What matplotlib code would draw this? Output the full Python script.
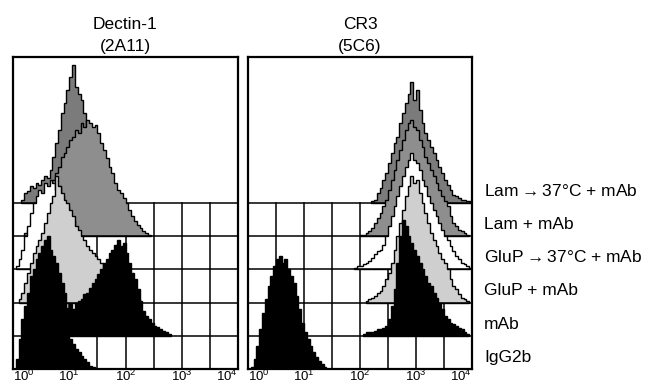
import numpy as np
import matplotlib
matplotlib.use('Agg')
import matplotlib.pyplot as plt
from matplotlib.transforms import blended_transform_factory

plt.rcParams['font.family'] = ['Liberation Sans', 'DejaVu Sans']
plt.rcParams['mathtext.default'] = 'regular'

# channel width (log10 units) of the histograms
bin_width = 0.05

# samples from the back row (top) to the front row (bottom)
samples = ['Lam$\\rightarrow$37\u00b0C + mAb', 'Lam + mAb', 'GluP$\\rightarrow$37\u00b0C + mAb',
           'GluP + mAb', 'mAb', 'IgG2b']
fills = ['#7b7b7b', '#8e8e8e', 'white', '#cfcfcf', 'black', 'black']

# Dectin-1 (2A11): first channel (log10 fluorescence) and counts in row heights
dec_start = [0.15, 0.20, 0.05, 0.10, 0.30, 0.05]
dec_lam37 = [0.1, 0.3, 0.35, 0.5, 0.45, 0.6, 0.55, 0.7, 0.8, 0.75, 1.0, 1.4, 1.8, 2.2,
             2.7, 3.0, 3.4, 3.8, 4.15, 3.5, 3.3, 3.1, 2.7, 2.3, 2.0, 1.8, 1.5, 1.3, 1.0,
             0.8, 0.6, 0.45, 0.3, 0.2, 0.1, 0.05]
dec_lam = [0.1, 0.2, 0.3, 0.45, 0.5, 0.7, 0.8, 1.0, 1.2, 1.5, 1.7, 1.9, 2.1, 2.4, 2.5,
           2.7, 2.9, 3.0, 3.2, 3.1, 3.4, 3.3, 3.5, 3.4, 3.3, 3.35, 3.1, 2.8, 2.6, 2.35,
           2.1, 1.9, 1.6, 1.4, 1.3, 1.15, 1.0, 0.8, 0.6, 0.45, 0.35, 0.25, 0.15, 0.1, 0.05]
dec_glup37 = [0.1, 0.3, 0.6, 1.0, 1.3, 1.7, 2.0, 2.2, 2.4, 2.3, 2.6, 2.5, 2.7, 2.6, 2.4,
              2.5, 2.2, 2.0, 1.9, 1.6, 1.5, 1.2, 1.0, 0.8, 0.6, 0.5, 0.35, 0.25, 0.15,
              0.1, 0.05]
dec_glup = [0.1, 0.3, 0.6, 0.9, 1.2, 1.5, 1.7, 1.9, 2.1, 2.4, 2.7, 3.0, 3.2, 3.8, 3.5,
            3.3, 3.1, 3.0, 2.8, 2.6, 2.3, 2.2, 2.0, 1.9, 1.7, 1.6, 1.5, 1.4, 1.3, 1.2,
            1.05, 0.95, 0.85, 0.75, 0.65, 0.55, 0.5, 0.4, 0.3, 0.25, 0.2, 0.15, 0.1, 0.05]
dec_mab = [0.1, 0.2, 0.3, 0.4, 0.5, 0.6, 0.7, 0.75, 0.8, 0.85, 0.9, 0.95, 1.0, 0.85,
           0.95, 0.8, 1.0, 1.05, 1.1, 1.25, 1.3, 1.45, 1.6, 1.7, 1.85, 2.0, 2.2, 2.3,
           2.5, 2.6, 2.75, 2.9, 2.7, 2.8, 2.5, 2.2, 1.9, 1.7, 1.4, 1.0, 0.75, 0.6, 0.5,
           0.4, 0.3, 0.27, 0.2, 0.15, 0.1, 0.05]
dec_igg = [0.3, 0.9, 1.5, 1.9, 2.3, 2.8, 3.0, 3.3, 3.5, 3.7, 3.9, 4.0, 3.6, 3.4, 3.2,
           2.9, 2.6, 2.3, 1.5, 0.9, 0.75, 0.6, 0.5, 0.4, 0.3, 0.2, 0.1, 0.05]

# CR3 (5C6)
cr3_start = [2.20, 2.00, 1.90, 2.10, 2.05, 0.05]
cr3_lam37 = [0.05, 0.1, 0.3, 0.45, 0.7, 0.9, 1.2, 1.5, 1.8, 2.0, 2.4, 2.7, 3.0, 3.3,
             3.65, 3.1, 3.4, 2.8, 2.4, 2.1, 1.9, 1.7, 1.5, 1.3, 1.1, 0.9, 0.7, 0.55,
             0.4, 0.25, 0.2, 0.15, 0.1, 0.1, 0.05, 0.05]
cr3_lam = [0.05, 0.05, 0.1, 0.15, 0.25, 0.4, 0.55, 0.7, 0.9, 1.1, 1.4, 1.7, 2.0, 2.3,
           2.6, 2.9, 3.2, 3.4, 3.5, 3.3, 3.2, 2.9, 2.7, 2.4, 2.2, 2.0, 1.8, 1.6, 1.4,
           1.2, 1.05, 0.9, 0.6, 0.4, 0.3, 0.2, 0.15, 0.1, 0.05]
cr3_glup37 = [0.05, 0.1, 0.1, 0.15, 0.2, 0.25, 0.35, 0.45, 0.55, 0.6, 0.75, 1.0, 1.3,
              1.6, 1.9, 2.2, 2.5, 2.8, 3.1, 3.3, 3.5, 3.3, 3.2, 3.0, 2.7, 2.5, 2.2,
              2.0, 1.8, 1.6, 1.4, 1.2, 1.0, 0.9, 0.7, 0.55, 0.4, 0.3, 0.2, 0.15, 0.1,
              0.05]
cr3_glup = [0.05, 0.1, 0.15, 0.2, 0.3, 0.35, 0.5, 0.7, 0.9, 1.2, 1.6, 2.0, 2.4, 2.8,
            3.2, 3.5, 3.8, 3.6, 3.7, 3.3, 3.0, 2.7, 2.4, 2.1, 1.9, 1.7, 1.5, 1.3, 1.2,
            1.0, 0.7, 0.5, 0.4, 0.25, 0.15, 0.1, 0.05]
cr3_mab = [0.05, 0.1, 0.1, 0.1, 0.15, 0.2, 0.2, 0.25, 0.3, 0.5, 0.9, 1.4, 2.2, 3.0,
           3.5, 3.3, 3.0, 2.8, 2.6, 2.4, 2.2, 2.0, 1.8, 1.6, 1.5, 1.3, 1.15, 1.0, 0.8,
           0.6, 0.5, 0.4, 0.35, 0.3, 0.25, 0.2, 0.1, 0.05]
cr3_igg = [0.05, 0.3, 0.7, 1.2, 1.7, 2.1, 2.5, 2.8, 3.1, 3.3, 3.4, 3.2, 3.3, 3.0, 2.8,
           2.6, 2.2, 1.8, 1.4, 1.1, 0.9, 0.7, 0.5, 0.35, 0.25, 0.15, 0.05]

decades = [0, 1, 2, 3, 4]
tick_labels = ['$10^{%d}$' % d for d in decades]
panel_titles = ['Dectin-1\n(2A11)', 'CR3\n(5C6)']

n_rows = len(samples)


def draw_panel(ax, starts, hists, title):
    ax.set_xscale('log')
    ax.set_xlim(1, 1e4)
    ax.set_ylim(0, 9.4)
    top_base = n_rows - 1
    # vertical grid every half decade, only in the stacked region
    for v in np.arange(0.5, 4.0, 0.5):
        ax.plot([10 ** v, 10 ** v], [0, top_base], color='black', lw=1.1, zorder=1)
    for i, (s, h) in enumerate(zip(starts, hists)):
        base = top_base - i
        h = np.asarray(h)
        edges = s + bin_width * np.arange(len(h) + 1)
        xs = np.r_[edges[0], np.repeat(edges, 2)[1:-1], edges[-1]]
        ys = np.r_[0, np.repeat(h, 2), 0]
        z = 2 + i
        ax.fill(10 ** xs, base + ys, facecolor=fills[i], edgecolor='black',
                lw=1.0, zorder=z)
        ax.axhline(base, color='black', lw=1.1, zorder=z + 0.5)
    ax.set_yticks([])
    ax.set_xticks([10 ** d for d in decades])
    ax.set_xticklabels(tick_labels, fontsize=9.5)
    ax.minorticks_off()
    ax.tick_params(axis='x', length=0, pad=0)
    labels = ax.get_xticklabels()
    labels[0].set_horizontalalignment('left')
    labels[-1].set_horizontalalignment('right')
    for sp in ax.spines.values():
        sp.set_linewidth(1.6)
    ax.set_title(title, fontsize=12.5, linespacing=1.65, pad=4)


fig = plt.figure(figsize=(6.54, 3.87), dpi=100)
ax1 = fig.add_axes([13 / 654, 18 / 387, 225 / 654, 312 / 387])
ax2 = fig.add_axes([248 / 654, 18 / 387, 224 / 654, 312 / 387])

draw_panel(ax1, dec_start, [dec_lam37, dec_lam, dec_glup37, dec_glup, dec_mab, dec_igg],
           panel_titles[0])
draw_panel(ax2, cr3_start, [cr3_lam37, cr3_lam, cr3_glup37, cr3_glup, cr3_mab, cr3_igg],
           panel_titles[1])

# sample names to the right of the CR3 panel, one per row
trans = blended_transform_factory(fig.transFigure, ax2.transData)
for i, name in enumerate(samples):
    fig.text(484 / 654, (n_rows - 1 - i) + 0.22, name, transform=trans,
             fontsize=12.5, va='baseline', ha='left')

fig.savefig('out.png', dpi=100)
